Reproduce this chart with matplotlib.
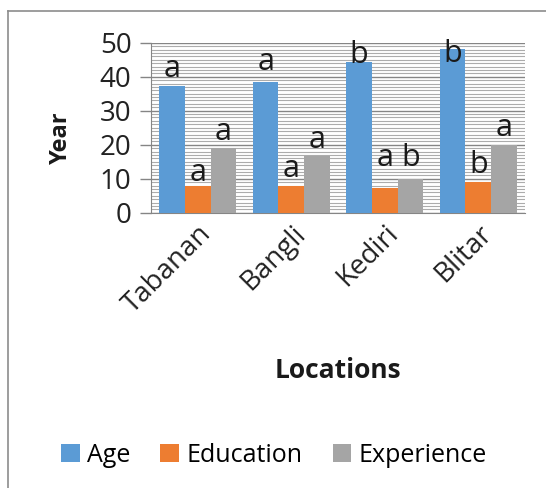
import numpy as np
import matplotlib.pyplot as plt
from matplotlib.lines import Line2D
from matplotlib.ticker import MultipleLocator

# Данные: средние значения по локациям (лет)
locations = ['Tabanan', 'Bangli', 'Kediri', 'Blitar']
series = ['Age', 'Education', 'Experience']
age = [37.3, 38.4, 44.2, 48.1]
education = [7.85, 7.85, 7.3, 8.9]
experience = [19.0, 16.6, 9.8, 19.9]

# Буквенные обозначения значимости над столбцами
letters_age = ['a', 'a', 'b', 'b']
letters_edu = ['a', 'a', 'a', 'b']
letters_exp = ['a', 'a', 'b', 'a']

# Сдвиг букв относительно вершины столбца (в годах)
shift_age = [2.7, 3.6, -0.3, -3.7]
shift_edu = [1.5, 2.7, 6.4, 2.8]
shift_exp = [2.4, 2.3, 3.9, 2.7]

colors = ['#5B9BD5', '#ED7D31', '#A5A5A5']

plt.rcParams['font.family'] = ['Open Sans', 'DejaVu Sans']

fig = plt.figure(figsize=(5.46, 4.88), dpi=100)
ax = fig.add_axes([151 / 546, 1 - 212.7 / 488, 374 / 546, 170 / 488])

x = np.arange(len(locations))
bar_width = 0.274
values = [age, education, experience]
letters = [letters_age, letters_edu, letters_exp]
shifts = [shift_age, shift_edu, shift_exp]

for k in range(3):
    pos = x + (k - 1) * bar_width
    ax.bar(pos, values[k], width=bar_width, color=colors[k], label=series[k], zorder=3)
    for p, v, t, s in zip(pos, values[k], letters[k], shifts[k]):
        ax.text(p, v + s, t, ha='center', va='baseline', fontsize=22, color='#1a1a1a', zorder=4)

ax.set_xlim(-0.5, len(locations) - 0.5)
ax.set_ylim(0, 50)
ax.yaxis.set_major_locator(MultipleLocator(10))
ax.yaxis.set_minor_locator(MultipleLocator(1))

# Сетка: основные линии темнее, вспомогательные светлее
ax.grid(axis='y', which='major', color='#858585', linewidth=1.0, zorder=0)
ax.grid(axis='y', which='minor', color='#acacac', linewidth=0.8, zorder=0)

for side in ['top', 'right']:
    ax.spines[side].set_visible(False)
ax.spines['left'].set_color('#858585')
ax.spines['bottom'].set_color('#858585')

ax.tick_params(axis='y', which='major', length=8, width=1, color='#858585', labelsize=20, pad=6, labelcolor='#222222')
ax.tick_params(axis='y', which='minor', length=0)
ax.tick_params(axis='x', length=0, pad=5)
ax.set_xticks(x)
ax.set_xticklabels(locations, rotation=45, ha='right', rotation_mode='anchor', fontsize=20, color='#222222')

fig.text(61 / 546, 1 - 138 / 488, 'Year', rotation=90, ha='center', va='center',
         fontsize=17, fontweight='bold', color='#1a1a1a')
fig.text(338 / 546, 1 - 370 / 488, 'Locations', ha='center', va='center',
         fontsize=19, fontweight='bold', color='#1a1a1a')

fig.legend(loc='center', bbox_to_anchor=(274 / 546, 1 - 455 / 488), ncol=3, frameon=False,
           fontsize=18, handlelength=0.75, handleheight=0.75, handletextpad=0.3, columnspacing=1.2)

# Рамка области диаграммы (левая и верхняя границы)
fig.add_artist(Line2D([8 / 546, 8 / 546], [0, 1 - 11 / 488], color='#8c8c8c', linewidth=1.2))
fig.add_artist(Line2D([8 / 546, 1], [1 - 11 / 488, 1 - 11 / 488], color='#8c8c8c', linewidth=1.2))

fig.savefig('out.png', dpi=100, facecolor='white')
